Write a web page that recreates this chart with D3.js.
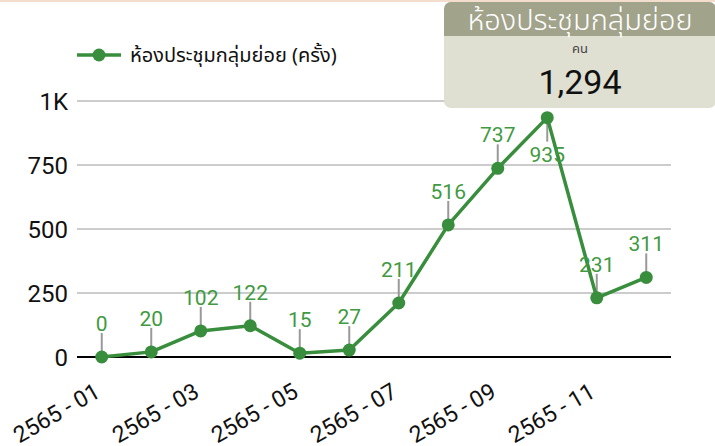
<!DOCTYPE html>
<html>
<head>
<meta charset="utf-8">
<script src="https://cdn.jsdelivr.net/npm/d3@7"></script>
<style>
  body { margin: 0; background: #fff; font-family: Roboto, "Noto Sans", sans-serif; }
  svg { display: block; }
</style>
</head>
<body>
<div id="chart"></div>
<script>
// monthly counts for the small meeting room
var months = ["2565 - 01", "2565 - 02", "2565 - 03", "2565 - 04", "2565 - 05", "2565 - 06",
              "2565 - 07", "2565 - 08", "2565 - 09", "2565 - 10", "2565 - 11", "2565 - 12"];
var counts = [0, 20, 102, 122, 15, 27, 211, 516, 737, 935, 231, 311];
var yTicks = [0, 250, 500, 750, 1000];
var seriesName = "ห้องประชุมกลุ่มย่อย (ครั้ง)";
var tipTitle = "ห้องประชุมกลุ่มย่อย";
var tipUnit = "คน";
var tipValue = 1294;

var width = 715, height = 446;
var green = "#388e3c", labelGreen = "#3f9a42";
var thaiFont = "'Noto Sans Thai', 'Noto Sans', Roboto, sans-serif";

var svg = d3.select("#chart").append("svg")
    .attr("width", width)
    .attr("height", height);

// thin top border
svg.append("rect")
    .attr("x", 0).attr("y", 0)
    .attr("width", width).attr("height", 2)
    .attr("fill", "#f3dece");

var x = d3.scaleBand()
    .domain(months)
    .range([77, 671]);

var y = d3.scaleLinear()
    .domain([0, 1000])
    .range([357, 101]);

// gridlines
svg.selectAll(".grid")
    .data(yTicks.slice(1))
    .enter().append("line")
    .attr("class", "grid")
    .attr("x1", 77).attr("x2", 671)
    .attr("y1", function(d) { return y(d); })
    .attr("y2", function(d) { return y(d); })
    .attr("stroke", "#cccccc")
    .attr("stroke-width", 2);

// y axis labels
svg.selectAll(".ylab")
    .data(yTicks)
    .enter().append("text")
    .attr("class", "ylab")
    .attr("x", 68)
    .attr("y", function(d) { return y(d); })
    .attr("dy", "0.36em")
    .attr("text-anchor", "end")
    .attr("font-size", 24)
    .attr("fill", "#111")
    .text(function(d) { return d === 0 ? "0" : d3.format("~s")(d).replace("k", "K"); });

// x axis baseline
svg.append("line")
    .attr("x1", 77).attr("x2", 671)
    .attr("y1", y(0)).attr("y2", y(0))
    .attr("stroke", "#000")
    .attr("stroke-width", 2);

// x labels, every second month
svg.selectAll(".xlab")
    .data(months.filter(function(d, i) { return i % 2 === 0; }))
    .enter().append("text")
    .attr("class", "xlab")
    .attr("text-anchor", "end")
    .attr("font-size", 23)
    .attr("fill", "#111")
    .attr("transform", function(d) {
        return "translate(" + (x(d) + x.bandwidth() / 2) + "," + 396 + ") rotate(-30)";
    })
    .text(function(d) { return d; });

var cx = function(i) { return x(months[i]) + x.bandwidth() / 2; };

// label leader ticks
svg.selectAll(".lead")
    .data(counts)
    .enter().append("line")
    .attr("class", "lead")
    .attr("x1", function(d, i) { return cx(i); })
    .attr("x2", function(d, i) { return cx(i); })
    .attr("y1", function(d) { return y(d); })
    .attr("y2", function(d) { return d > 900 ? y(d) + 24 : y(d) - 24; })
    .attr("stroke", "#999")
    .attr("stroke-width", 2);

// line
var line = d3.line()
    .x(function(d, i) { return cx(i); })
    .y(function(d) { return y(d); });

svg.append("path")
    .datum(counts)
    .attr("d", line)
    .attr("fill", "none")
    .attr("stroke", green)
    .attr("stroke-width", 3.5)
    .attr("stroke-linejoin", "round");

svg.selectAll(".dot")
    .data(counts)
    .enter().append("circle")
    .attr("class", "dot")
    .attr("cx", function(d, i) { return cx(i); })
    .attr("cy", function(d) { return y(d); })
    .attr("r", 6.5)
    .attr("fill", green);

// value labels
svg.selectAll(".vlab")
    .data(counts)
    .enter().append("text")
    .attr("class", "vlab")
    .attr("x", function(d, i) { return cx(i); })
    .attr("y", function(d) { return d > 900 ? y(d) + 44 : y(d) - 26; })
    .attr("text-anchor", "middle")
    .attr("font-size", 21)
    .attr("fill", labelGreen)
    .text(function(d) { return d; });

// legend
var lg = svg.append("g").attr("transform", "translate(77,55)");
lg.append("line")
    .attr("x1", 0).attr("x2", 44)
    .attr("stroke", green).attr("stroke-width", 3.5);
lg.append("circle")
    .attr("cx", 22).attr("r", 6.5)
    .attr("fill", green);
lg.append("text")
    .attr("x", 53)
    .attr("dy", "0.35em")
    .attr("font-size", 20)
    .attr("font-family", thaiFont)
    .attr("fill", "#111")
    .text(seriesName);

// tooltip box
var tip = svg.append("g").attr("transform", "translate(444,2)");
tip.append("rect")
    .attr("width", 272).attr("height", 106)
    .attr("rx", 7)
    .attr("fill", "#dfdfd2");
tip.append("path")
    .attr("d", "M0,34 V7 A7,7 0 0 1 7,0 H265 A7,7 0 0 1 272,7 V34 Z")
    .attr("fill", "#a2a38b");
tip.append("text")
    .attr("x", 136).attr("y", 28)
    .attr("text-anchor", "middle")
    .attr("font-size", 29)
    .attr("font-weight", 300)
    .attr("font-family", thaiFont)
    .attr("fill", "#fff")
    .text(tipTitle);
tip.append("text")
    .attr("x", 136).attr("y", 51)
    .attr("text-anchor", "middle")
    .attr("font-size", 13)
    .attr("font-family", thaiFont)
    .attr("fill", "#444")
    .text(tipUnit);
tip.append("text")
    .attr("x", 136).attr("y", 92)
    .attr("text-anchor", "middle")
    .attr("font-size", 34)
    .attr("fill", "#111")
    .text(d3.format(",")(tipValue));
</script>
</body>
</html>
